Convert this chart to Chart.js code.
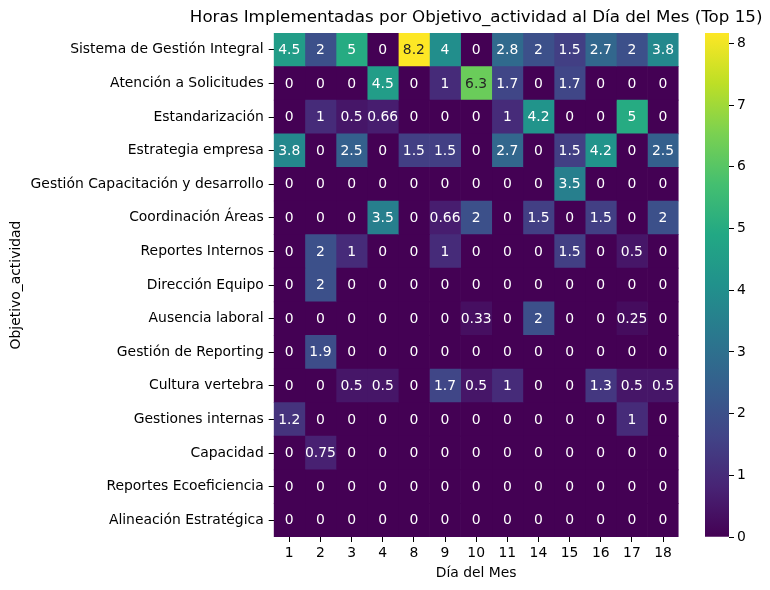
<!DOCTYPE html>
<html><head><meta charset="utf-8">
<script src="https://cdn.jsdelivr.net/npm/chart.js@4.4.1/dist/chart.umd.min.js"></script>
<style>
html,body{margin:0;padding:0;background:#fff}
#wrap{position:relative;width:770px;height:590px}
canvas{position:absolute;left:0;top:0}
</style></head>
<body><div id="wrap"><canvas id="c" width="770" height="590"></canvas><canvas id="cb" width="770" height="590"></canvas></div>
<script>
const days = ['1','2','3','4','8','9','10','11','14','15','16','17','18'];
const objetivos = [
  'Sistema de Gestión Integral',
  'Atención a Solicitudes',
  'Estandarización',
  'Estrategia empresa',
  'Gestión Capacitación y desarrollo',
  'Coordinación Áreas',
  'Reportes Internos',
  'Dirección Equipo',
  'Ausencia laboral',
  'Gestión de Reporting',
  'Cultura vertebra',
  'Gestiones internas',
  'Capacidad',
  'Reportes Ecoeficiencia',
  'Alineación Estratégica'
];
const hours = [
  [4.5, 2, 5, 0, 8.17, 4, 0, 2.8, 2, 1.5, 2.7, 2, 3.8],
  [0, 0, 0, 4.5, 0, 1, 6.3, 1.7, 0, 1.7, 0, 0, 0],
  [0, 1, 0.5, 0.66, 0, 0, 0, 1, 4.2, 0, 0, 5, 0],
  [3.8, 0, 2.5, 0, 1.5, 1.5, 0, 2.7, 0, 1.5, 4.2, 0, 2.5],
  [0, 0, 0, 0, 0, 0, 0, 0, 0, 3.5, 0, 0, 0],
  [0, 0, 0, 3.5, 0, 0.66, 2, 0, 1.5, 0, 1.5, 0, 2],
  [0, 2, 1, 0, 0, 1, 0, 0, 0, 1.5, 0, 0.5, 0],
  [0, 2, 0, 0, 0, 0, 0, 0, 0, 0, 0, 0, 0],
  [0, 0, 0, 0, 0, 0, 0.33, 0, 2, 0, 0, 0.25, 0],
  [0, 1.9, 0, 0, 0, 0, 0, 0, 0, 0, 0, 0, 0],
  [0, 0, 0.5, 0.5, 0, 1.7, 0.5, 1, 0, 0, 1.3, 0.5, 0.5],
  [1.2, 0, 0, 0, 0, 0, 0, 0, 0, 0, 0, 1, 0],
  [0, 0.75, 0, 0, 0, 0, 0, 0, 0, 0, 0, 0, 0],
  [0, 0, 0, 0, 0, 0, 0, 0, 0, 0, 0, 0, 0],
  [0, 0, 0, 0, 0, 0, 0, 0, 0, 0, 0, 0, 0]
];
const colorbarTicks = [0, 1, 2, 3, 4, 5, 6, 7, 8];
const titleText = 'Horas Implementadas por Objetivo_actividad al Día del Mes (Top 15)';

const vmax = Math.max(...hours.flat());
const FONT = 'DejaVu Sans';
const FS = 13.9;
const VIR = ['#440154','#482475','#414487','#355f8d','#2a788e','#21918c','#22a884','#44bf70','#7ad151','#bddf26','#fde725'];
function hex2rgb(h){return [parseInt(h.slice(1,3),16),parseInt(h.slice(3,5),16),parseInt(h.slice(5,7),16)];}
const VIRRGB = VIR.map(hex2rgb);
function viridisRGB(t){
  t = Math.max(0, Math.min(1, t));
  const p = t * (VIRRGB.length - 1);
  const i = Math.min(Math.floor(p), VIRRGB.length - 2);
  const f = p - i;
  return VIRRGB[i].map((c, k) => Math.round(c + (VIRRGB[i+1][k] - c) * f));
}
function rgbStr(c){return 'rgb(' + c.join(',') + ')';}
function lum(c){
  const l = c.map(v => { v /= 255; return v <= 0.03928 ? v / 12.92 : Math.pow((v + 0.055) / 1.055, 2.4); });
  return 0.2126*l[0] + 0.7152*l[1] + 0.0722*l[2];
}
function fmt(v){
  let s = v.toPrecision(2);
  if (s.indexOf('.') >= 0) s = s.replace(/0+$/, '').replace(/\.$/, '');
  return s;
}

const datasets = days.map((d, j) => ({
  label: d,
  data: objetivos.map(() => 1),
  backgroundColor: hours.map(row => rgbStr(viridisRGB(row[j] / vmax))),
  borderWidth: 0,
  barPercentage: 1,
  categoryPercentage: 1
}));

const annotPlugin = {
  id: 'annot',
  afterDatasetsDraw(chart) {
    const ctx = chart.ctx;
    ctx.save();
    ctx.font = FS + 'px "' + FONT + '"';
    ctx.textAlign = 'center';
    ctx.textBaseline = 'middle';
    chart.data.datasets.forEach((ds, j) => {
      const meta = chart.getDatasetMeta(j);
      meta.data.forEach((el, i) => {
        const v = hours[i][j];
        const c = viridisRGB(v / vmax);
        ctx.fillStyle = lum(c) > 0.408 ? '#262626' : '#ffffff';
        const p = el.getCenterPoint();
        ctx.fillText(fmt(v), p.x, p.y + 0.5);
      });
    });
    const ca = chart.chartArea;
    ctx.fillStyle = '#000';
    ctx.font = '16.7px "' + FONT + '"';
    ctx.fillText(titleText, (ca.left + ca.right) / 2, 18);
    ctx.restore();
  }
};

const tickFont = {family: FONT, size: FS};

new Chart(document.getElementById('c'), {
  type: 'bar',
  data: {labels: objetivos, datasets},
  plugins: [annotPlugin],
  options: {
    responsive: false,
    animation: false,
    indexAxis: 'y',
    layout: {padding: {top: 33, right: 91.4, left: 0, bottom: 0}},
    plugins: {legend: {display: false}, tooltip: {enabled: false}, title: {display: false}},
    scales: {
      x: {
        type: 'linear', stacked: true, min: 0, max: days.length, position: 'bottom',
        afterBuildTicks: s => { s.ticks = days.map((d, i) => ({value: i + 0.5})); },
        afterFit: s => { s.height = 53; },
        ticks: {callback: (v, i) => days[i], autoSkip: false, maxRotation: 0, padding: 3, color: '#000', font: tickFont},
        grid: {drawOnChartArea: false, drawTicks: true, tickLength: 5, color: '#000', lineWidth: 1},
        border: {display: false},
        title: {display: true, text: 'Día del Mes', color: '#000', font: tickFont, padding: {top: 0, bottom: 8.5}}
      },
      y: {
        type: 'category', stacked: true,
        afterFit: s => { s.width = 273.7; },
        ticks: {autoSkip: false, padding: 5, color: '#000', font: tickFont},
        grid: {drawOnChartArea: false, drawTicks: true, tickLength: 5, color: '#000', lineWidth: 1, offset: false},
        border: {display: false},
        title: {display: true, text: 'Objetivo_actividad', color: '#000', font: tickFont, padding: {top: 8.5, bottom: 0}}
      }
    }
  }
});

new Chart(document.getElementById('cb'), {
  type: 'bar',
  data: {labels: [''], datasets: [{
    data: [[0, vmax]],
    borderWidth: 0,
    barPercentage: 1,
    categoryPercentage: 1,
    backgroundColor: (c) => {
      const ca = c.chart.chartArea;
      if (!ca) return VIR[0];
      const g = c.chart.ctx.createLinearGradient(0, ca.bottom, 0, ca.top);
      VIR.forEach((col, k) => g.addColorStop(k / (VIR.length - 1), col));
      return g;
    }
  }]},
  options: {
    responsive: false,
    animation: false,
    layout: {padding: {left: 705, top: 33, right: 0, bottom: 53}},
    plugins: {legend: {display: false}, tooltip: {enabled: false}},
    scales: {
      x: {display: false},
      y: {
        position: 'right', min: 0, max: vmax,
        afterBuildTicks: s => { s.ticks = colorbarTicks.map(v => ({value: v})); },
        afterFit: s => { s.width = 41; },
        ticks: {color: '#000', font: tickFont, padding: 3},
        grid: {drawOnChartArea: false, drawTicks: true, tickLength: 5, color: '#000', lineWidth: 1},
        border: {display: false}
      }
    }
  }
});
</script>
</body></html>
